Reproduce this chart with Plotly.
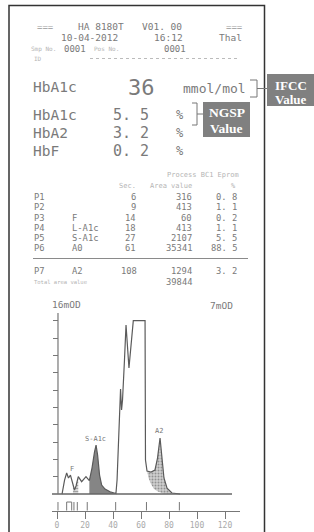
import plotly.graph_objects as go

# ---------------- data ----------------
header_model = "HA 8180T"
header_version = "V01. 00"
run_date = "10-04-2012"
run_time = "16:12"
run_mode = "Thal"
sample_no = "0001"
port_no = "0001"

ifcc_label = "HbA1c"
ifcc_value = 36
ifcc_unit = "mmol/mol"

ngsp_labels = ["HbA1c", "HbA2", "HbF"]
ngsp_values = [5.5, 3.2, 0.2]

peak_ids = ["P1", "P2", "P3", "P4", "P5", "P6"]
peak_names = ["", "", "F", "L-A1c", "S-A1c", "A0"]
peak_times = [6, 9, 14, 18, 27, 61]
peak_areas = [316, 413, 60, 413, 2107, 35341]
peak_pcts = [0.8, 1.1, 0.2, 1.1, 5.5, 88.5]

a2_id, a2_name, a2_time, a2_area, a2_pct = "P7", "A2", 108, 1294, 3.2
total_area = 39844

# chromatogram (time, mOD)
chrom_t = [3.6, 5.4, 6.9, 8.2, 9.6, 11.4, 12.5, 13.6, 15.2, 17.6, 20.7, 23.1, 25.0,
           26.8, 27.9, 29.0, 30.4, 31.9, 34.3, 37.9, 42.1, 42.9, 44.3, 45.4, 46.1,
           46.8, 48.2, 49.3, 51.4, 52.9, 54.5, 62.9, 62.9, 63.2, 64.3, 67.1, 70.0,
           71.8, 73.6, 75.0, 76.4, 78.6, 82.1, 87.9]
chrom_mod = [0.0, 1.29, 1.94, 1.48, 1.75, 0.83, 0.37, 0.74, 1.60, 1.14, 1.60, 1.23, 2.40,
             3.88, 4.52, 3.60, 1.75, 0.83, 0.46, 0.21, 0.05, 1.29, 6.83, 9.70, 7.76,
             8.68, 12.37, 15.60, 11.63, 13.76, 16.0, 16.0, 6.83, 3.14, 2.12, 2.03, 2.22,
             3.32, 5.17, 3.60, 1.48, 0.55, 0.09, 0.0]
a2_skim_t = [82.1, 75.7, 72.1, 69.3, 67.1, 65.4, 64.3]
a2_skim_mod = [0.0, 0.05, 0.23, 0.46, 0.92, 1.48, 2.12]
marker_times = [0.7, 6.9, 10.5, 12.1, 14.5, 21.6, 41.9, 63.9, 87.4]
time_ticks = [0, 20, 40, 60, 80, 100, 120]
od_ticks = [1.6, 3.2, 4.8, 6.4, 8.0, 9.6, 11.2, 12.8, 14.4, 16.0]

# ---------------- styling helpers ----------------
W, H = 314, 532
MONO = "DejaVu Sans Mono"
SERIF = "Liberation Serif"
TXT = "#7a7a7a"
FAINT = "#b4b4b4"
LINE = "#5a5a5a"


def X(p):
    return p / W


def Y(p):
    return 1 - p / H


annotations = []


def ann(text, x, y, size, color=TXT, anchor="left", font=MONO):
    annotations.append(dict(text=text, x=X(x), y=Y(y), xref="paper", yref="paper",
                            xanchor=anchor, yanchor="middle", showarrow=False, borderpad=0,
                            font=dict(family=font, size=size, color=color)))


def fmt(v):
    return f"{v:.1f}".replace(".", ". ")


shapes = []


def pline(x0, y0, x1, y1, color="#777", width=1, dash=None):
    d = dict(type="line", xref="paper", yref="paper", x0=X(x0), y0=Y(y0), x1=X(x1), y1=Y(y1),
             line=dict(color=color, width=width))
    if dash:
        d["line"]["dash"] = dash
    shapes.append(d)


# frame
shapes.append(dict(type="rect", xref="paper", yref="paper", x0=X(9), x1=X(264.5), y0=-0.05, y1=Y(5.5),
                   line=dict(color="#333", width=1.5), fillcolor="rgba(0,0,0,0)"))

# header
ann("===", 45, 26.5, 9, "#9a9a9a", "center")
ann(header_model, 101, 26.5, 9.5, TXT, "center")
ann(header_version, 162, 26.5, 9.5, TXT, "center")
ann("===", 235, 26.5, 9, "#9a9a9a", "center")
ann(run_date, 89, 38, 9.5, TXT, "center")
ann(run_time, 168, 38, 9.5, TXT, "center")
ann(run_mode, 231, 38, 9.5, TXT, "center")
ann("Smp No.", 43, 49, 6, FAINT, "center")
ann(sample_no, 75, 49, 9, TXT, "center")
ann("Pos No.", 106, 49, 6, FAINT, "center")
ann(port_no, 175, 49, 9, TXT, "center")
ann("ID", 38, 58.5, 6, FAINT, "center")
pline(90, 58.5, 237, 58.5, "#bbbbbb", 1, "dot")

# IFCC line
ann(ifcc_label, 32, 87, 14.5)
ann(str(ifcc_value), 141, 87, 22, anchor="center")
ann(ifcc_unit, 214, 88, 13, anchor="center")
pline(250, 80, 257, 80)
pline(257, 80, 257, 97)
pline(250, 97, 257, 97)
pline(257, 88.5, 267, 88.5)
shapes.append(dict(type="rect", xref="paper", yref="paper", x0=X(267), x1=1.0, y0=Y(106), y1=Y(74),
                   line=dict(width=0), fillcolor="#808080"))
ann("<b>IFCC</b>", 291, 85, 13, "white", "center", SERIF)
ann("<b>Value</b>", 291, 99.5, 13, "white", "center", SERIF)

# NGSP lines
for lab, val, yy in zip(ngsp_labels, ngsp_values, [115, 132.5, 151]):
    ann(lab, 32, yy, 14.5)
    ann(fmt(val), 131, yy, 15, anchor="center")
    ann("%", 180, yy, 12, anchor="center")
pline(192, 103, 197, 103)
pline(197, 103, 197, 125)
pline(192, 125, 197, 125)
pline(197, 114, 203, 114)
shapes.append(dict(type="rect", xref="paper", yref="paper", x0=X(203), x1=X(250), y0=Y(137), y1=Y(102),
                   line=dict(width=0), fillcolor="#808080"))
ann("<b>NGSP</b>", 226.5, 112.3, 13.5, "white", "center", SERIF)
ann("<b>Value</b>", 226.5, 128.2, 13.5, "white", "center", SERIF)

# table
ann("Process BC1 Eprom", 240, 175, 7, FAINT, "right")
ann("Sec.", 137, 186, 7, FAINT, "right")
ann("Area value", 193, 186, 7, FAINT, "right")
ann("%", 237, 186, 7, FAINT, "right")
row_y = [197.0, 207.3, 217.6, 227.9, 238.2, 248.5]
for pid, nm, t, a, pc, yy in zip(peak_ids, peak_names, peak_times, peak_areas, peak_pcts, row_y):
    ann(pid, 33, yy, 8.8)
    if nm:
        ann(nm, 71, yy, 8.8)
    ann(str(t), 137, yy, 8.8, anchor="right")
    ann(str(a), 193, yy, 8.8, anchor="right")
    ann(fmt(pc), 238, yy, 8.8, anchor="right")
pline(33, 258.5, 248, 258.5, "#8a8a8a", 1)
ann(a2_id, 33, 271, 8.8)
ann(a2_name, 71, 271, 8.8)
ann(str(a2_time), 138, 271, 8.8, anchor="right")
ann(str(a2_area), 193, 271, 8.8, anchor="right")
ann(fmt(a2_pct), 238, 271, 8.8, anchor="right")
ann("Total area value", 33, 282, 5.5, FAINT)
ann(str(total_area), 193, 282, 8.8, anchor="right")

# chromatogram titles
ann("16mOD", 66, 304, 9.5, TXT, "center")
ann("7mOD", 221, 305, 9.5, TXT, "center")

# ---------------- chromatogram ----------------
fig = go.Figure()

sa_t = [t for t in chrom_t if 23.1 <= t <= 42.1]
sa_m = [m for t, m in zip(chrom_t, chrom_mod) if 23.1 <= t <= 42.1]
fig.add_trace(go.Scatter(x=sa_t + [42.1, 23.1], y=sa_m + [0, 0], fill="toself",
                         fillcolor="#858585", line=dict(width=0), mode="lines", hoverinfo="skip"))

f_t = [t for t in chrom_t if 11.4 <= t <= 15.2]
f_m = [m for t, m in zip(chrom_t, chrom_mod) if 11.4 <= t <= 15.2]
fig.add_trace(go.Scatter(x=f_t + [15.2, 11.4], y=f_m + [0, 0], fill="toself",
                         fillcolor="#dddddd", fillpattern=dict(shape="-", fgcolor="#666", size=3, solidity=0.4),
                         line=dict(width=0), mode="lines", hoverinfo="skip"))

a2_t = [t for t in chrom_t if 64.3 <= t <= 82.1]
a2_m = [m for t, m in zip(chrom_t, chrom_mod) if 64.3 <= t <= 82.1]
fig.add_trace(go.Scatter(x=a2_t + a2_skim_t, y=a2_m + a2_skim_mod, fill="toself",
                         fillcolor="#c8c8c8",
                         fillpattern=dict(shape=".", fgcolor="#555", bgcolor="#cfcfcf", size=3, solidity=0.35),
                         line=dict(width=0), mode="lines", hoverinfo="skip"))

fig.add_trace(go.Scatter(x=chrom_t, y=chrom_mod, mode="lines",
                         line=dict(color=LINE, width=1.2), hoverinfo="skip"))

# baseline and y-axis line
shapes.append(dict(type="line", xref="x", yref="y", x0=-3.57, x1=125, y0=0, y1=0,
                   line=dict(color="#666", width=1.5)))
shapes.append(dict(type="line", xref="x", yref="y", x0=0.71, x1=0.71, y0=0, y1=16.7,
                   line=dict(color="#777", width=1.2)))
# peak markers
for mt in marker_times:
    shapes.append(dict(type="line", xref="x", yref="y", x0=mt, x1=mt, y0=-0.74, y1=-1.54,
                       line=dict(color="#777", width=1)))
shapes.append(dict(type="line", xref="x", yref="y", x0=6.9, x1=10.5, y0=-0.74, y1=-0.74,
                   line=dict(color="#777", width=1)))

# peak labels
for txt, tx, ty in [("S-A1c", 27.5, 5.1), ("A2", 73.2, 5.8), ("F", 11.0, 2.3)]:
    annotations.append(dict(text=txt, x=tx, y=ty, xref="x", yref="y", showarrow=False,
                            font=dict(family=MONO, size=7, color="#777"), yanchor="middle"))

fig.update_layout(
    width=W, height=H, margin=dict(l=0, r=0, t=0, b=0),
    paper_bgcolor="white", plot_bgcolor="rgba(0,0,0,0)", showlegend=False,
    shapes=shapes, annotations=annotations,
    xaxis=dict(domain=[X(52), X(240)], range=[-3.57, 130.71], showgrid=False, zeroline=False,
               showline=True, linecolor="#777", linewidth=1.2, ticks="outside", ticklen=7,
               tickcolor="#777", tickvals=time_ticks, ticktext=[str(v) for v in time_ticks],
               tickfont=dict(family=MONO, size=8, color="#aaa"), anchor="y", fixedrange=True),
    yaxis=dict(domain=[Y(510.7), Y(304)], range=[-1.54, 17.54], showgrid=False, zeroline=False,
               showline=False, ticks="outside", ticklen=5, tickcolor="#777", tickvals=od_ticks,
               showticklabels=False, anchor="free", position=X(58), fixedrange=True),
)

fig.write_html("out.html", config={"displayModeBar": False},
               post_script="document.body.style.margin='0';document.body.style.overflow='hidden';")
